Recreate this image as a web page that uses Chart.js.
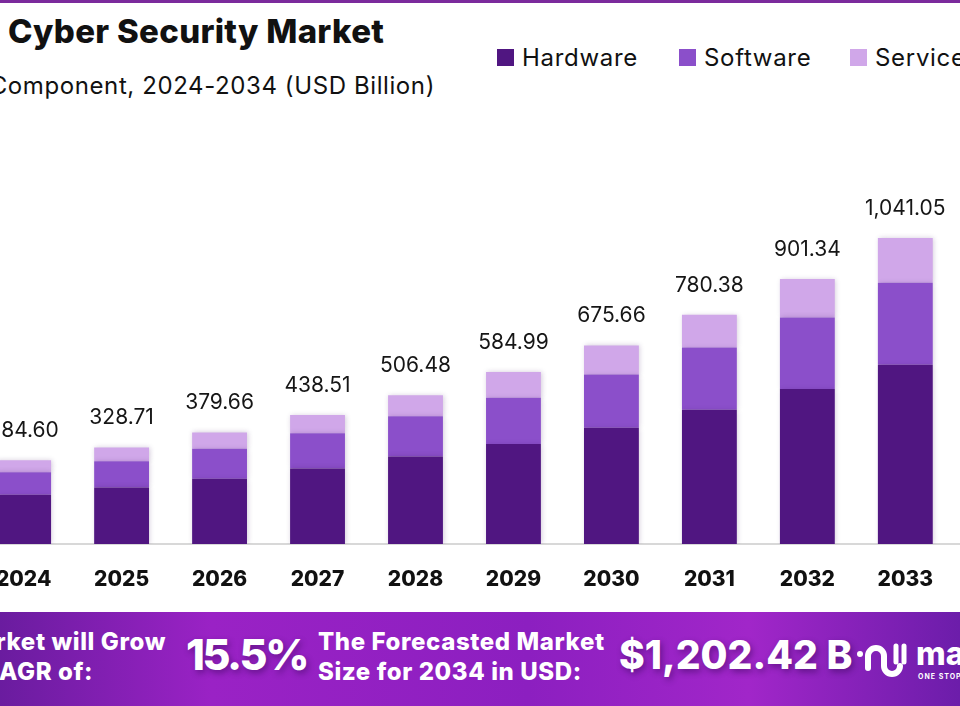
<!DOCTYPE html>
<html>
<head>
<meta charset="utf-8">
<title>Cyber Security Market</title>
<script src="https://cdn.jsdelivr.net/npm/chart.js@4.4.1/dist/chart.umd.min.js"></script>
<style>
  html, body { margin: 0; padding: 0; }
  body {
    width: 960px; height: 706px; overflow: hidden; position: relative;
    background: #fff; font-family: "Inter", "Noto Sans", sans-serif; color: #111;
  }
  .topline { position: absolute; left: 0; top: 0; width: 960px; height: 3px; background: #7b2a9c; }
  .title { position: absolute; left: 8px; top: 11px; font-size: 33px; font-weight: 800; white-space: nowrap; letter-spacing: 0.3px; }
  .subtitle { position: absolute; right: 525px; top: 71px; font-size: 24px; font-weight: 400; white-space: nowrap; letter-spacing: 0.6px; }
  .legend-item { position: absolute; top: 43px; display: flex; align-items: center; font-size: 24px; letter-spacing: 0.7px; white-space: nowrap; }
  .legend-item span.box { width: 17px; height: 17px; margin-right: 8px; display: inline-block; }
  #chartWrap { position: absolute; left: -27.5px; top: 0; width: 1081.3px; height: 606px; }
  .banner {
    position: absolute; left: 0; top: 612px; width: 960px; height: 94px; overflow: hidden;
    background: linear-gradient(90deg, #6a1c9f 0%, #9a22c5 22%, #8c1fc0 55%, #a126c9 78%, #6c1daa 100%);
    color: #fff; font-weight: 800;
  }
  .banner .txt { position: absolute; font-size: 24px; line-height: 30px; letter-spacing: 0.6px; white-space: nowrap; }
  .banner .big { position: absolute; white-space: nowrap; text-shadow: 2px 3px 6px rgba(40,0,70,0.45); }
</style>
</head>
<body>
<div class="topline"></div>
<div class="title">Cyber Security Market</div>
<div class="subtitle">By Component, 2024-2034 (USD Billion)</div>
<div id="legend"></div>

<div id="chartWrap"><canvas id="chart"></canvas></div>

<div class="banner">
  <div class="txt" style="right:794px; top:15px;">The Market will Grow</div>
  <div class="txt" style="right:867px; top:45px;">At a CAGR of:</div>
  <div class="big" style="left:186px; top:16px; font-size:43px; letter-spacing:-2.5px;">15.5%</div>
  <div class="txt" style="left:318px; top:15px;">The Forecasted Market</div>
  <div class="txt" style="left:318px; top:45px;">Size for 2034 in USD:</div>
  <div class="big" style="left:619px; top:19px; font-size:39px; letter-spacing:0px;">$1,202.42 B</div>
  <svg style="position:absolute; left:856px; top:26px;" width="52" height="44" viewBox="0 0 52 44">
    <circle cx="4" cy="16" r="3" fill="#fff"/>
    <path d="M12 30 V18 a8 8 0 0 1 16 0 V28 a8 8 0 0 0 16 0" fill="none" stroke="#fff" stroke-width="6" stroke-linecap="round"/>
    <path d="M40 8 V24 M48 8 V24" stroke="#fff" stroke-width="5" stroke-linecap="round"/>
  </svg>
  <div style="position:absolute; left:916px; top:22px; font-size:32px; font-weight:800; white-space:nowrap;">market.us</div>
  <div style="position:absolute; left:918px; top:60px; font-size:7px; font-weight:700; letter-spacing:1px; white-space:nowrap;">ONE STOP SHOP FOR THE REPORTS</div>
</div>

<script>
// Chart data
const years = ['2024', '2025', '2026', '2027', '2028', '2029', '2030', '2031', '2032', '2033', '2034'];
const hardware = [167.5, 192.6, 221.8, 257.0, 297.8, 340.6, 395.8, 456.8, 527.8, 609.6, 703.0];
const software = [76.5, 89.2, 102.4, 120.0, 136.8, 156.8, 180.8, 211.4, 243.0, 279.3, 323.0];
const services = [40.6, 46.91, 55.46, 61.51, 71.88, 87.59, 99.06, 112.18, 130.54, 152.15, 176.42];
const totalLabels = ['284.60', '328.71', '379.66', '438.51', '506.48', '584.99', '675.66', '780.38', '901.34', '1,041.05', '1,202.42'];

const seriesNames = ['Hardware', 'Software', 'Services'];
const seriesColors = ['#501681', '#8b4fca', '#d0a7e9'];

function buildLegend() {
  const holder = document.getElementById('legend');
  const lefts = [497, 679, 850];
  seriesNames.forEach((name, i) => {
    const item = document.createElement('div');
    item.className = 'legend-item';
    item.style.left = lefts[i] + 'px';
    item.innerHTML = `<span class="box" style="background:${seriesColors[i]}"></span>${name}`;
    holder.appendChild(item);
  });
}

// totals above each stack + a soft shadow under the bars
const totalsPlugin = {
  id: 'totals',
  beforeDatasetsDraw(chart) {
    const ctx = chart.ctx;
    ctx.save();
    ctx.shadowColor = 'rgba(60,20,90,0.22)';
    ctx.shadowBlur = 5;
    ctx.shadowOffsetX = 1;
  },
  afterDatasetsDraw(chart) {
    const ctx = chart.ctx;
    ctx.restore();
    const meta = chart.getDatasetMeta(chart.data.datasets.length - 1);
    ctx.save();
    ctx.font = '400 21px Inter, "Noto Sans", sans-serif';
    ctx.fillStyle = '#161616';
    ctx.textAlign = 'center';
    ctx.textBaseline = 'alphabetic';
    meta.data.forEach((bar, i) => {
      ctx.fillText(totalLabels[i], bar.x, bar.y - 23);
    });
    ctx.restore();
  }
};

function init() {
  buildLegend();
  const data = [hardware, software, services];
  new Chart(document.getElementById('chart'), {
    type: 'bar',
    data: {
      labels: years,
      datasets: seriesNames.map((name, i) => ({
        label: name,
        data: data[i],
        backgroundColor: seriesColors[i],
        borderWidth: 0,
        barPercentage: 0.56,
        categoryPercentage: 1
      }))
    },
    options: {
      responsive: true,
      maintainAspectRatio: false,
      animation: false,
      layout: { padding: 0 },
      plugins: {
        legend: { display: false },
        tooltip: { enabled: false }
      },
      scales: {
        x: {
          stacked: true,
          grid: { display: false, drawTicks: false, tickLength: 0 },
          border: { display: true, color: '#d8d8d8', width: 2 },
          ticks: {
            color: '#111',
            padding: 23,
            font: { family: 'Inter, "Noto Sans", sans-serif', size: 21, weight: '800' }
          },
          afterFit(scale) { scale.height = 62; }
        },
        y: {
          stacked: true,
          display: false,
          min: 0,
          max: 1851
        }
      }
    },
    plugins: [totalsPlugin]
  });
}

init();
</script>
</body>
</html>
